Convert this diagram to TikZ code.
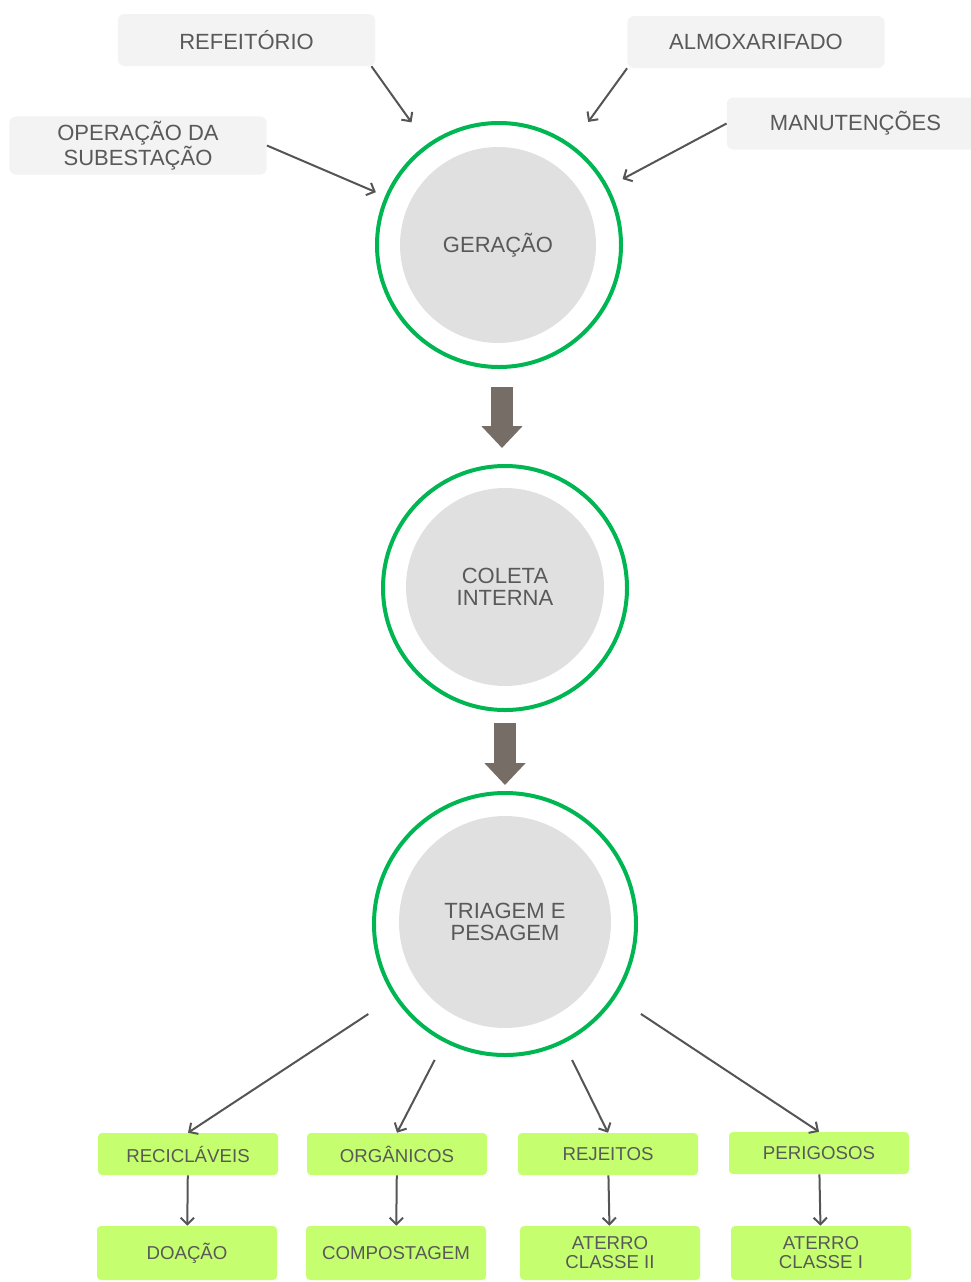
\documentclass[tikz,border=0pt]{standalone}
\usepackage{fontspec}
\setmainfont{Liberation Sans}
\usetikzlibrary{arrows.meta,calc}
\definecolor{txtgray}{HTML}{595959}
\definecolor{srcgray}{HTML}{F3F3F3}
\definecolor{ringgreen}{HTML}{00B652}
\definecolor{coregray}{HTML}{E0E0E0}
\definecolor{boxgreen}{HTML}{C5FF70}
\definecolor{arrgray}{HTML}{555555}
\definecolor{bigbrown}{HTML}{776D67}

\begin{document}
\begin{tikzpicture}[x=0.75pt,y=-0.75pt]
        \tikzstyle{every node}=[text=txtgray,align=center,font=\fontsize{16.5}{16.5}\selectfont]
        \tikzstyle{source}=[fill=srcgray,rounded corners=5pt,minimum width=193pt,minimum height=39pt]
        \tikzstyle{ring}=[circle,draw=ringgreen,line width=3pt,inner sep=0pt]
        \tikzstyle{core}=[circle,fill=coregray,inner sep=0pt]
        \tikzstyle{dest}=[fill=boxgreen,rounded corners=3pt,minimum width=135pt,font=\fontsize{14}{14.25}\selectfont]
        \tikzstyle{arr}=[draw=arrgray,line width=1.5pt,-{Straight Barb[length=5pt,width=10pt]}]
        \tikzstyle{bigarr}=[draw=bigbrown,line width=16.5pt,-{Triangle[length=16.5pt,width=30pt]}]
        \useasboundingbox (0,0) rectangle (971,1282);
        % origens
        \node[source] (refe) at (246.5,40) {REFEITÓRIO};
        \node[source] (alm) at (756,42) {ALMOXARIFADO};
        \node[source] (ope) at (138,145.5) {OPERAÇÃO DA\\SUBESTAÇÃO};
        \node[source] (man) at (855.5,123.5) {MANUTENÇÕES};
        % etapas
        \node[ring,minimum size=183pt] (ger) at (499,245) {};
        \node[core,minimum size=147pt] (gerc) at (498,245) {GERAÇÃO};
        \node[ring,minimum size=183pt] (col) at (505,588) {};
        \node[core,minimum size=148.5pt] (colc) at (505,587) {COLETA\\INTERNA};
        \node[ring,minimum size=196.5pt] (tri) at (505,924) {};
        \node[core,minimum size=159pt] (tric) at (505,922) {TRIAGEM E\\PESAGEM};
        % destinos
        \node[dest,minimum height=31.5pt] (rec) at (188,1154) {RECICLÁVEIS};
        \node[dest,minimum height=31.5pt] (org) at (397,1154) {ORGÂNICOS};
        \node[dest,minimum height=31.5pt] (rej) at (608,1154) {REJEITOS};
        \node[dest,minimum height=31.5pt] (per) at (819,1153) {PERIGOSOS};
        \node[dest,minimum height=40.5pt] (doa) at (187,1253) {DOAÇÃO};
        \node[dest,minimum height=40.5pt] (com) at (396,1253) {COMPOSTAGEM};
        \node[dest,minimum height=40.5pt] (at2) at (610,1253) {ATERRO\\CLASSE II};
        \node[dest,minimum height=40.5pt] (at1) at (821,1253) {ATERRO\\CLASSE I};
        % setas
        \draw[arr,shorten >=20pt] ($(refe.south east)+(-4,0)$) -- (ger);
        \draw[arr,shorten >=21pt] (alm.south west) -- (ger);
        \draw[arr,shorten >=7.5pt] (ope.east) -- (ger);
        \draw[arr,shorten >=12pt] (man.west) -- (ger);
        \draw[bigarr,shorten <=13.5pt,shorten >=12pt] ([xshift=2.25pt]ger.south) -- ([xshift=-2.25pt]col.north);
        \draw[bigarr,shorten <=8pt,shorten >=4.5pt] (col.south) -- (tri.north);
        \draw[arr,shorten <=23pt] (tri) -- (rec.north);
        \draw[arr,shorten <=15pt] (tri) -- (org.north);
        \draw[arr,shorten <=14pt] (tri) -- (rej.north);
        \draw[arr,shorten <=22.5pt] (tri) -- (per.north);
        \draw[arr] (rec) -- (doa);
        \draw[arr] (org) -- (com);
        \draw[arr] (rej) -- (at2);
        \draw[arr] (per) -- (at1);
    \end{tikzpicture}
\end{document}
